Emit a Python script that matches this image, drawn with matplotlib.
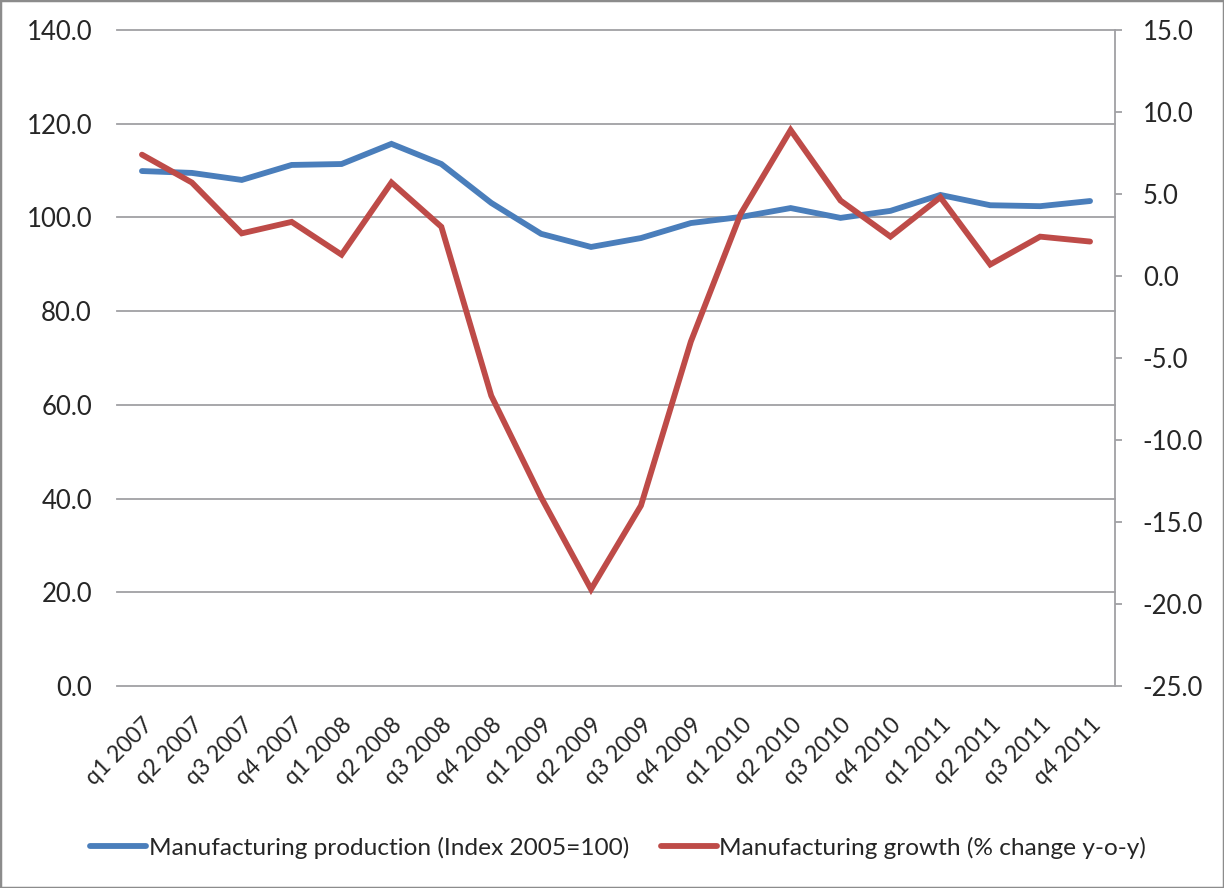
import matplotlib.pyplot as plt
from matplotlib.patches import Rectangle

plt.rcParams['font.family'] = ['Lato', 'DejaVu Sans']

# Quarters on the x axis
quarters = ['q1 2007', 'q2 2007', 'q3 2007', 'q4 2007',
            'q1 2008', 'q2 2008', 'q3 2008', 'q4 2008',
            'q1 2009', 'q2 2009', 'q3 2009', 'q4 2009',
            'q1 2010', 'q2 2010', 'q3 2010', 'q4 2010',
            'q1 2011', 'q2 2011', 'q3 2011', 'q4 2011']

# Manufacturing production (Index 2005=100), left axis
production = [109.9, 109.5, 108.0, 111.2, 111.4, 115.7, 111.4, 103.1, 96.5, 93.7,
              95.6, 98.8, 100.1, 102.0, 99.9, 101.4, 104.8, 102.6, 102.4, 103.5]

# Manufacturing growth (% change y-o-y), right axis
growth = [7.4, 5.7, 2.6, 3.3, 1.3, 5.7, 3.0, -7.3, -13.5, -19.1,
          -14.0, -4.0, 3.8, 8.9, 4.6, 2.4, 4.8, 0.7, 2.4, 2.1]

blue = '#4A7EBB'
red = '#BE4B48'
grid_grey = '#A0A0A4'
text_col = '#262626'

fig = plt.figure(figsize=(12.24, 8.88), dpi=100)
ax = fig.add_axes([117 / 1224, 1 - 686 / 888, 998 / 1224, 656 / 888])
ax2 = ax.twinx()

x = list(range(len(quarters)))
l1, = ax.plot(x, production, color=blue, lw=4.2, solid_joinstyle='miter',
              solid_capstyle='round',
              label='Manufacturing production (Index 2005=100)', zorder=3)
l2, = ax2.plot(x, growth, color=red, lw=4.2, solid_joinstyle='miter',
               solid_capstyle='round',
               label='Manufacturing growth (% change y-o-y)', zorder=3)

ax.set_xlim(-0.5, len(quarters) - 0.5)
ax.set_ylim(0, 140)
ax.set_yticks(range(0, 141, 20))
ax.set_yticklabels([f'{v:.1f}' for v in range(0, 141, 20)])
ax2.set_ylim(-25, 15)
ax2.set_yticks(range(-25, 16, 5))
ax2.set_yticklabels([f'{v:.1f}' for v in range(-25, 16, 5)])

ax.grid(axis='y', color=grid_grey, lw=1.3, clip_on=False)
ax.set_axisbelow(True)
for a in (ax, ax2):
    for s in a.spines.values():
        s.set_visible(False)
ax2.spines['right'].set_visible(True)
ax2.spines['right'].set_color(grid_grey)
ax2.spines['right'].set_linewidth(1.3)

ax.set_xticks(x)
ax.set_xticklabels(quarters, rotation=45, ha='right', rotation_mode='anchor')
ax.tick_params(axis='x', length=0, pad=20, labelsize=16.5, labelcolor=text_col)
ax.tick_params(axis='y', length=0, pad=18, labelsize=18.5, labelcolor=text_col)
ax2.tick_params(axis='y', length=5, width=1.3, color=grid_grey, pad=15,
                labelsize=18.5, labelcolor=text_col)

fig.legend(handles=[l1, l2], loc='center', bbox_to_anchor=(0.505, 1 - 848 / 888),
           ncol=2, frameon=False, fontsize=17.6, handlelength=2.3, handletextpad=0.1,
           columnspacing=1.3, labelcolor=text_col)

fig.patches.append(Rectangle((0, 0), 1, 1, transform=fig.transFigure, fill=False,
                             edgecolor='#8C8C8C', lw=2.5))

fig.savefig('out.png', dpi=100)
